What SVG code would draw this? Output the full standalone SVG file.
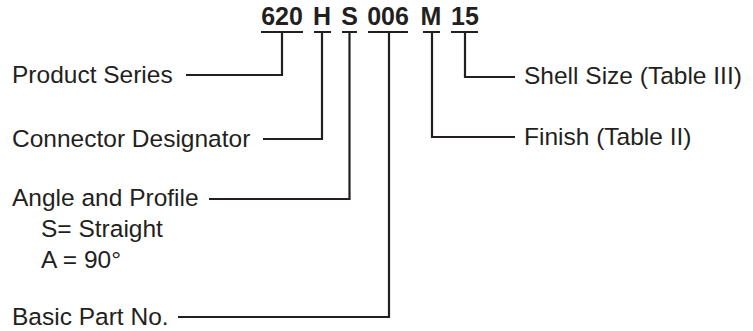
<svg xmlns="http://www.w3.org/2000/svg" width="753" height="331" viewBox="0 0 753 331">
<style>
.code{font-family:"Liberation Sans",Arial,sans-serif;font-weight:bold;font-size:25px;fill:#231f20;text-anchor:middle}
.lbl{font-family:"Liberation Sans",Arial,sans-serif;font-size:24.5px;fill:#231f20}
.ln{fill:none;stroke:#231f20;stroke-width:2.2}
</style>
<rect width="753" height="331" fill="#fff"/>
<g id="code">
<text class="code" x="282" y="25">620</text>
<text class="code" x="322" y="25">H</text>
<text class="code" x="349.5" y="25">S</text>
<text class="code" x="388" y="25">006</text>
<text class="code" x="431" y="25">M</text>
<text class="code" x="465" y="25">15</text>
</g>
<g id="connectors">
<path class="ln" d="M261 32H303M314 32H331M342 32H357M368 32H408M423 32H440M451 32H478"/>
<path class="ln" d="M186 75H282V32"/>
<path class="ln" d="M263 139H322V32"/>
<path class="ln" d="M209 199H349.5V32"/>
<path class="ln" d="M178 317H389V32"/>
<path class="ln" d="M515 137H432V32"/>
<path class="ln" d="M515 77H465V32"/>
</g>
<g id="product-series"><text class="lbl" x="12" y="83">Product Series</text></g>
<g id="connector-designator"><text class="lbl" x="12" y="147">Connector Designator</text></g>
<g id="angle-profile">
<text class="lbl" x="12" y="206">Angle and Profile</text>
<text class="lbl" x="41" y="237">S= Straight</text>
<text class="lbl" x="41" y="268">A = 90°</text>
</g>
<g id="basic-part"><text class="lbl" x="12" y="325">Basic Part No.</text></g>
<g id="shell-size"><text class="lbl" x="524" y="84">Shell Size (Table III)</text></g>
<g id="finish"><text class="lbl" x="524" y="145">Finish (Table II)</text></g>
</svg>
